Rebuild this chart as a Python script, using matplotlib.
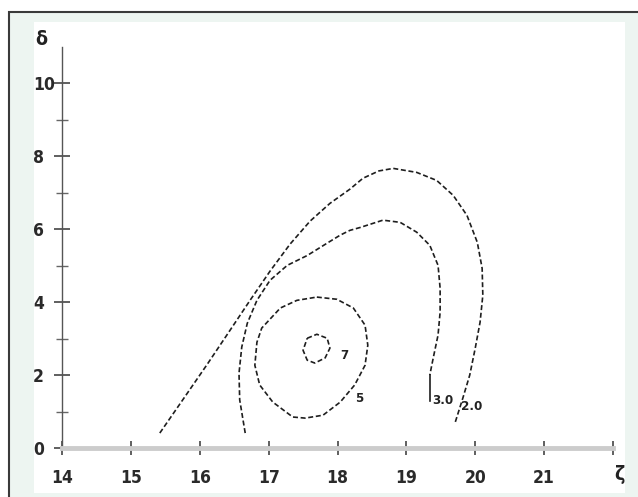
import matplotlib
matplotlib.use("Agg")
import matplotlib.pyplot as plt
from matplotlib.patches import Rectangle

# contour traces (zeta, delta)
c20_x = [15.42, 15.76, 16.11, 16.44, 16.73, 17.02, 17.31, 17.60, 17.89, 18.18,
         18.37, 18.60, 18.81, 19.15, 19.44, 19.68, 19.88, 20.03, 20.10, 20.11,
         20.07, 20.00, 19.92, 19.82, 19.71]
c20_y = [0.41, 1.34, 2.30, 3.23, 4.05, 4.85, 5.59, 6.22, 6.71, 7.10,
         7.40, 7.60, 7.67, 7.56, 7.34, 6.93, 6.38, 5.64, 4.93, 4.19,
         3.45, 2.74, 2.00, 1.37, 0.71]

c30_x = [16.66, 16.58, 16.57, 16.61, 16.69, 16.83, 17.02, 17.27, 17.56, 17.85,
         18.04, 18.18, 18.33, 18.66, 18.91, 19.15, 19.34, 19.46, 19.49, 19.49,
         19.46, 19.39, 19.34]
c30_y = [0.41, 1.32, 2.05, 2.77, 3.42, 4.05, 4.60, 5.01, 5.28, 5.62,
         5.84, 5.97, 6.05, 6.25, 6.19, 5.92, 5.56, 5.01, 4.38, 3.73,
         3.10, 2.47, 2.00]
c30_tail_x = [19.34, 19.34]
c30_tail_y = [2.00, 1.30]

c5_x = [17.70, 17.99, 18.23, 18.40, 18.44, 18.40, 18.25, 18.04, 17.79, 17.53,
        17.35, 17.06, 16.87, 16.80, 16.83, 16.90, 17.17, 17.41, 17.70]
c5_y = [4.14, 4.08, 3.84, 3.37, 2.82, 2.27, 1.73, 1.26, 0.90, 0.82,
        0.85, 1.26, 1.73, 2.27, 2.90, 3.29, 3.84, 4.05, 4.14]

c7_x = [17.56, 17.70, 17.85, 17.89, 17.82, 17.67, 17.56, 17.50, 17.56]
c7_y = [3.01, 3.12, 3.01, 2.74, 2.47, 2.33, 2.41, 2.68, 3.01]

contour_labels = ["7", "5", "3.0", "2.0"]
label_x = [18.04, 18.26, 19.37, 19.80]
label_y = [2.55, 1.37, 1.30, 1.15]

x_ticks = [14, 15, 16, 17, 18, 19, 20, 21, 22]
x_ticklabels = ["14", "15", "16", "17", "18", "19", "20", "21", ""]
y_ticks = [0, 2, 4, 6, 8, 10]
y_ticklabels = ["0", "2", "4", "6", "8", "10"]
y_minor = [1, 3, 5, 7, 9]

fam = ["DejaVu Sans"]
W, H = 638, 497

fig = plt.figure(figsize=(W / 100, H / 100), dpi=100)
fig.patch.set_facecolor("white")

# scanned page frame
fig.patches.append(Rectangle((9 / W, -0.05), 1.1, (H - 12) / H + 0.05,
                             transform=fig.transFigure, facecolor="#edf5f1",
                             edgecolor="#3a3a3a", linewidth=1.5, zorder=-20))
fig.patches.append(Rectangle((34 / W, 4 / H), (625 - 34) / W, (475 - 4) / H,
                             transform=fig.transFigure, facecolor="white",
                             edgecolor="none", zorder=-19))

ax = fig.add_axes([62 / W, 49 / H, 551 / W, 401 / H])
ax.patch.set_alpha(0)
ax.set_xlim(14, 22)
ax.set_ylim(0, 11.0)

for s in ["top", "right"]:
    ax.spines[s].set_visible(False)
ax.spines["left"].set_color("#555555")
ax.spines["left"].set_linewidth(1.0)
ax.spines["bottom"].set_color("#cccccc")
ax.spines["bottom"].set_linewidth(3.5)

dash = (0, (3, 1.6))
lc = "#1e1e1e"
kw = dict(color=lc, lw=1.2, solid_joinstyle="round", dash_joinstyle="round")
ax.plot(c20_x, c20_y, ls=dash, **kw)
ax.plot(c30_x, c30_y, ls=dash, **kw)
ax.plot(c30_tail_x, c30_tail_y, **kw)
ax.plot(c5_x, c5_y, ls=dash, **kw)
ax.plot(c7_x, c7_y, ls=dash, **kw)

for t, x, y in zip(contour_labels, label_x, label_y):
    ax.text(x, y, t, fontsize=9.5, family=fam, fontweight="bold",
            fontstretch="condensed", color="#222222", ha="left", va="center")

ax.set_xticks(x_ticks)
ax.set_xticklabels(x_ticklabels, family=fam, fontsize=12.5, fontweight="bold",
                   fontstretch="condensed", color="#2a2a2a")
ax.tick_params(axis="x", direction="inout", length=10, width=1.2,
               color="#444444", pad=10)

ax.set_yticks(y_ticks)
ax.set_yticklabels(y_ticklabels, family=fam, fontsize=12.5, fontweight="bold",
                   fontstretch="condensed", color="#2a2a2a", ha="left")
ax.set_yticks(y_minor, minor=True)
ax.tick_params(axis="y", which="major", direction="inout", length=12,
               width=1.2, color="#444444", pad=15)
ax.tick_params(axis="y", which="minor", direction="inout", length=8,
               width=1.0, color="#666666")

ax.text(-0.038, 1.018, "δ", transform=ax.transAxes, fontsize=14, family=fam,
        fontweight="bold", fontstretch="condensed", color="#222222",
        ha="center", va="center")
ax.text(1.012, -0.067, "ζ", transform=ax.transAxes, fontsize=14, family=fam,
        fontweight="bold", fontstretch="condensed", color="#222222",
        ha="center", va="center")

fig.savefig("out.png", dpi=100)
